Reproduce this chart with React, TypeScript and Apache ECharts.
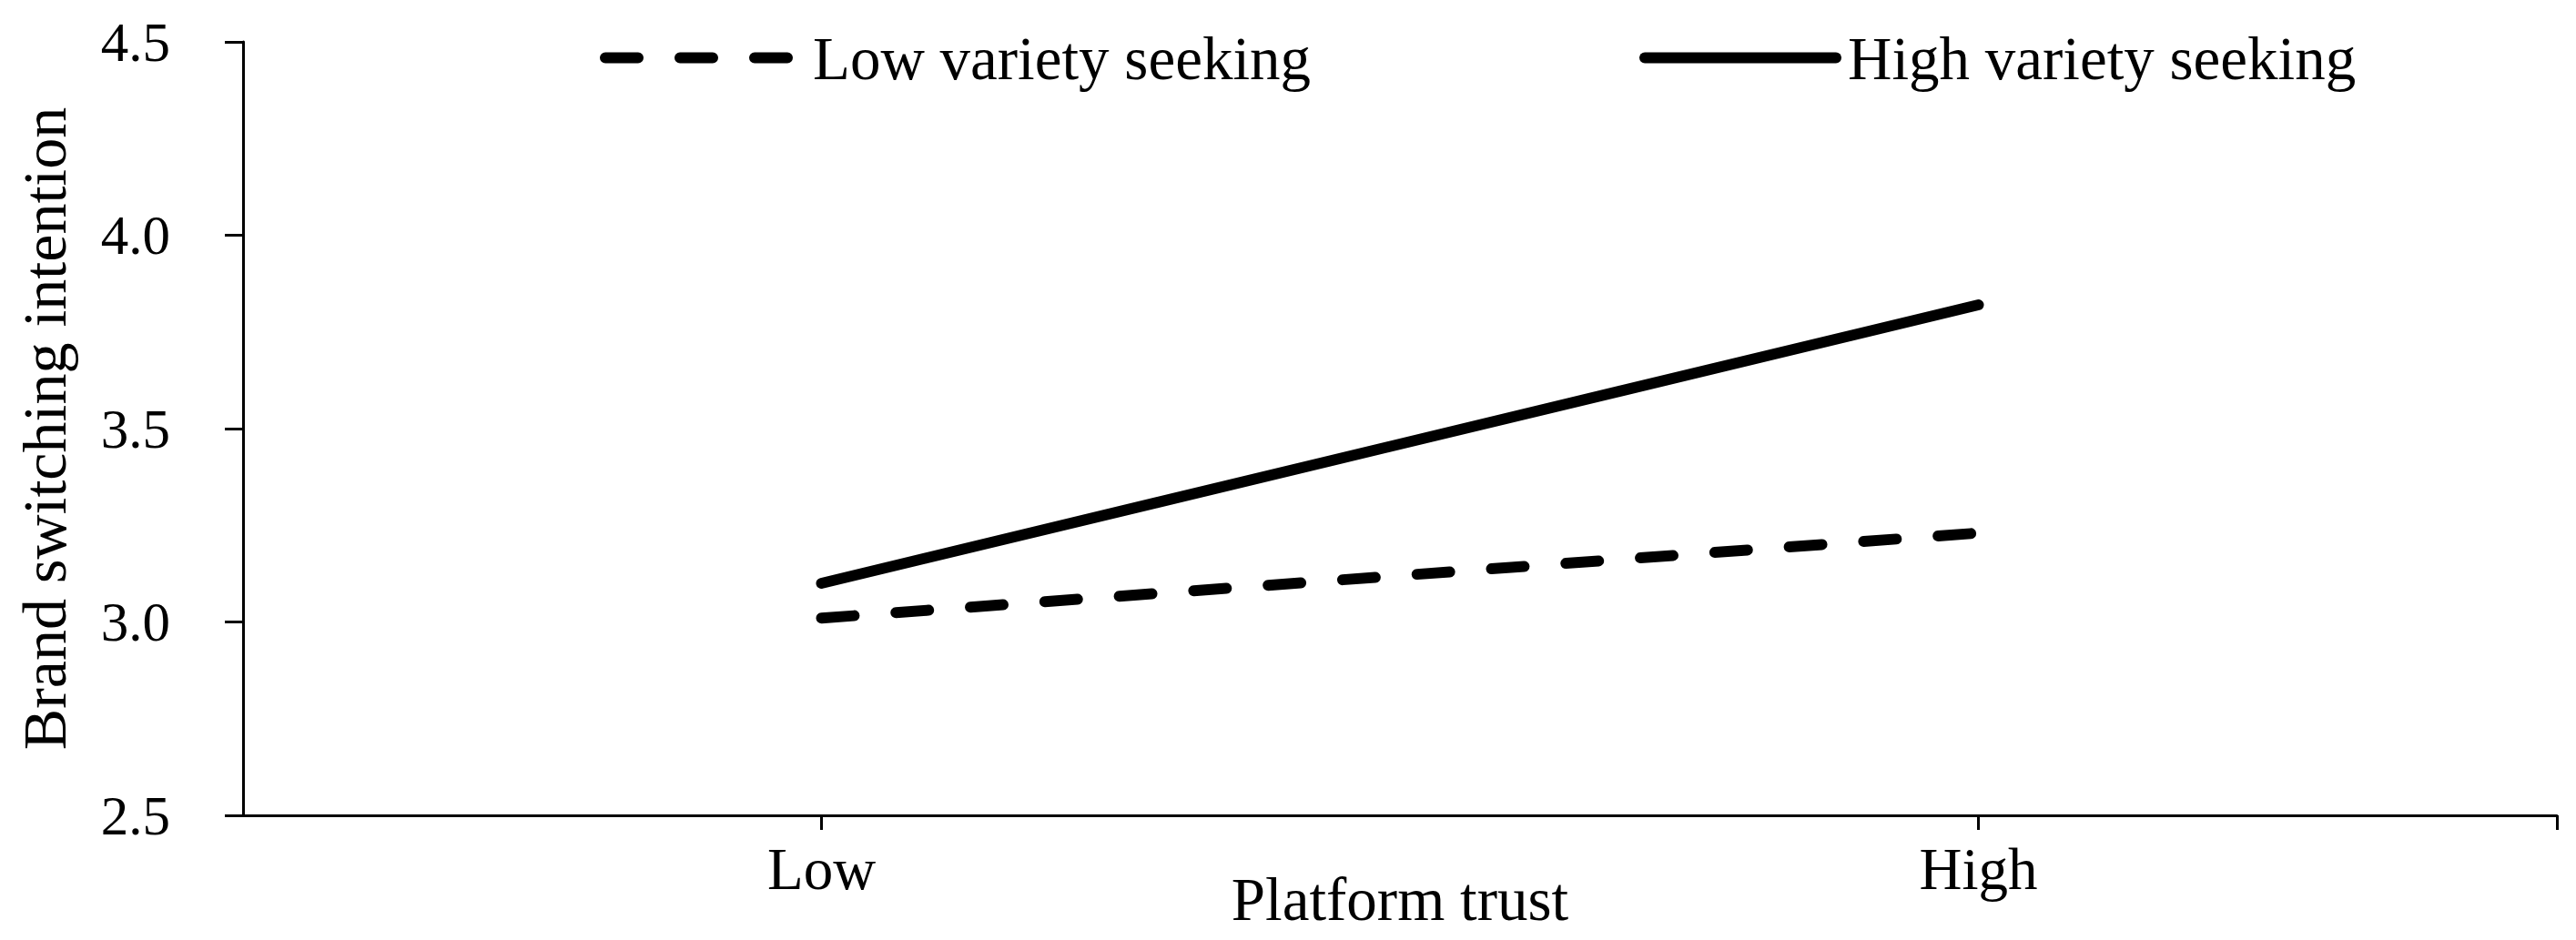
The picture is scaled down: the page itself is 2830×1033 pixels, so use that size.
import React, { useEffect, useRef } from "react";
import * as echarts from "echarts";

const categories = ["Low", "High"];
const lowVarietySeeking = [3.01, 3.23];
const highVarietySeeking = [3.1, 3.82];
const seriesNames = ["Low variety seeking", "High variety seeking"];
const yTicks = { min: 2.5, max: 4.5, interval: 0.5 };

const FONT = "Liberation Serif";

export default function App() {
  const ref = useRef<HTMLDivElement>(null);
  useEffect(() => {
    if (!ref.current) return;
    const chart = echarts.init(ref.current, undefined, { renderer: "svg" });
    const xPos = (i: number) => 2 * i + 1;
    const toPoints = (vals: number[]) => vals.map((v, i) => [xPos(i), v]);
    const dashType = [36, 46];
    const LW = 12;
    chart.setOption({
      animation: false,
      backgroundColor: "#ffffff",
      grid: {
        left: 267,
        right: 21,
        top: 46,
        bottom: 137,
        containLabel: false,
        outerBoundsMode: "none",
      },
      legend: [
        {
          data: [seriesNames[0]],
          left: 659,
          top: 30,
          padding: 0,
          itemWidth: 203,
          itemHeight: 64,
          itemStyle: { opacity: 0, borderWidth: 0 },
          lineStyle: { width: LW, type: dashType, cap: "round", color: "#000" },
          textStyle: { fontFamily: FONT, fontSize: 67, color: "#000", padding: [0, 0, 0, 20] },
        },
        {
          data: [seriesNames[1]],
          left: 1801,
          top: 30,
          padding: 0,
          itemWidth: 210,
          itemHeight: 64,
          itemStyle: { opacity: 0, borderWidth: 0 },
          lineStyle: { width: LW, type: "solid", cap: "round", color: "#000" },
          textStyle: { fontFamily: FONT, fontSize: 67, color: "#000", padding: [0, 0, 0, 8] },
        },
      ],
      xAxis: {
        type: "value",
        min: 0,
        max: 4,
        interval: 1,
        name: "Platform trust",
        nameLocation: "middle",
        nameGap: 58,
        nameMoveOverlap: false,
        nameTextStyle: { fontFamily: FONT, fontSize: 67, color: "#000" },
        splitLine: { show: false },
        axisLine: { show: true, onZero: false, lineStyle: { color: "#000", width: 3 } },
        axisTick: { show: true, length: 16, customValues: [1, 3, 4], lineStyle: { color: "#000", width: 3 } },
        axisLabel: {
          customValues: [1, 3],
          margin: 26,
          fontFamily: FONT,
          fontSize: 65,
          color: "#000",
          formatter: (v: number) => categories[(v - 1) / 2] ?? "",
        },
      },
      yAxis: {
        type: "value",
        min: yTicks.min,
        max: yTicks.max,
        interval: yTicks.interval,
        name: "Brand switching intention",
        nameLocation: "middle",
        nameRotate: 90,
        nameGap: 184,
        nameMoveOverlap: false,
        nameTextStyle: { fontFamily: FONT, fontSize: 68, color: "#000" },
        splitLine: { show: false },
        axisLine: { show: true, lineStyle: { color: "#000", width: 3 } },
        axisTick: { show: true, length: 20, lineStyle: { color: "#000", width: 3 } },
        axisLabel: {
          margin: 80,
          fontFamily: FONT,
          fontSize: 61,
          color: "#000",
          formatter: (v: number) => v.toFixed(1),
        },
      },
      series: [
        {
          name: seriesNames[0],
          type: "line",
          symbol: "none",
          data: toPoints(lowVarietySeeking),
          lineStyle: { color: "#000", width: LW, type: dashType, cap: "round" },
          itemStyle: { color: "#000" },
        },
        {
          name: seriesNames[1],
          type: "line",
          symbol: "none",
          data: toPoints(highVarietySeeking),
          lineStyle: { color: "#000", width: LW, type: "solid", cap: "round" },
          itemStyle: { color: "#000" },
        },
      ],
    });
    return () => chart.dispose();
  }, []);
  return (
    <div
      ref={ref}
      style={{ position: "fixed", left: 0, top: 0, width: 2830, height: 1033, background: "#fff" }}
    />
  );
}
